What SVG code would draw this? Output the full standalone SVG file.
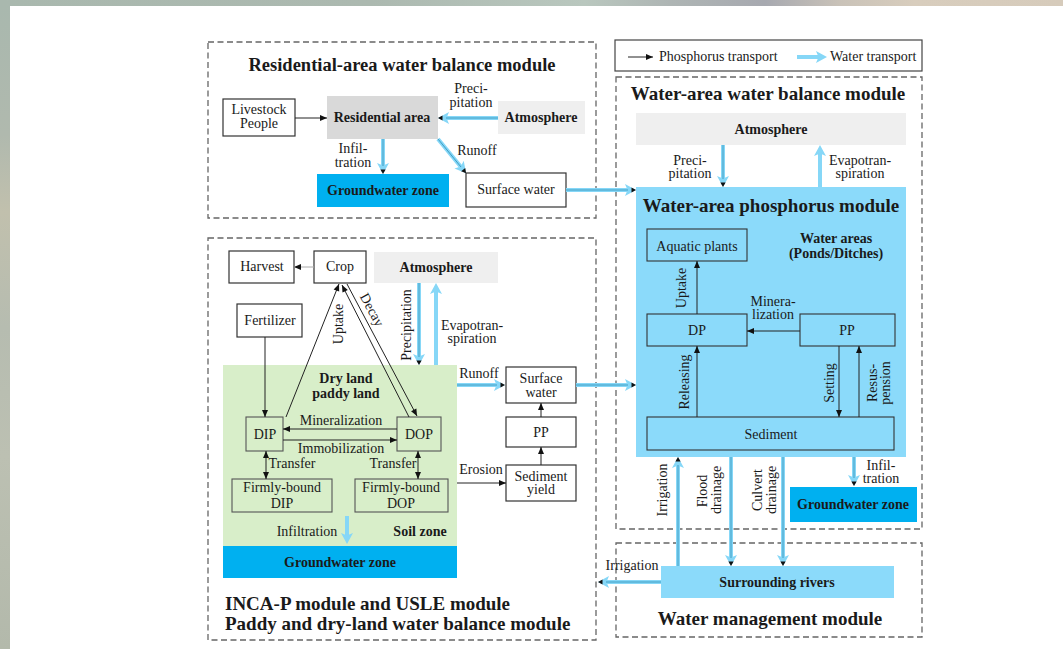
<svg xmlns="http://www.w3.org/2000/svg" width="1063" height="649" viewBox="0 0 1063 649">
  <defs>
    <linearGradient id="bgTop" x1="0" y1="0" x2="1" y2="0">
      <stop offset="0" stop-color="#a9b8ae"/>
      <stop offset="0.35" stop-color="#acb9b0"/>
      <stop offset="0.55" stop-color="#b9c7be"/>
      <stop offset="0.63" stop-color="#aeb5b4"/>
      <stop offset="0.72" stop-color="#a7a9b0"/>
      <stop offset="0.79" stop-color="#c9c2b8"/>
      <stop offset="0.86" stop-color="#d8cdbd"/>
      <stop offset="1" stop-color="#d6cbbb"/>
    </linearGradient>
    <linearGradient id="bgLeft" x1="0" y1="0" x2="0" y2="1">
      <stop offset="0" stop-color="#a9b8ae"/>
      <stop offset="0.2" stop-color="#b0b9ae"/>
      <stop offset="0.32" stop-color="#c1c0ad"/>
      <stop offset="0.5" stop-color="#b6bcb0"/>
      <stop offset="0.7" stop-color="#bcc0b2"/>
      <stop offset="1" stop-color="#b3b9ab"/>
    </linearGradient>
    <!-- phosphorus transport head -->
    <marker id="pa" viewBox="-8 -3.5 9 7" refX="0" refY="0" markerWidth="9" markerHeight="7" markerUnits="userSpaceOnUse" orient="auto-start-reverse">
      <path d="M-7,-3 L0,0 L-7,3 Z" fill="#111"/>
    </marker>
    <!-- water transport head (light blue) -->
    <marker id="wh" viewBox="-4 -7 13 14" refX="0" refY="0" markerWidth="13" markerHeight="14" markerUnits="userSpaceOnUse" orient="auto">
      <path d="M-3,-6 L8,0 L-3,6 L-0.5,0 Z" fill="#86d7f7"/>
    </marker>
    <!-- small dark tip drawn on top of the water head -->
    <marker id="th" viewBox="-4 -7 13 14" refX="0" refY="0" markerWidth="13" markerHeight="14" markerUnits="userSpaceOnUse" orient="auto">
      <path d="M3.5,-2.6 L8,0 L3.5,2.6 Z" fill="#111"/>
    </marker>
    <style>
      text { font-family: "Liberation Serif", "Times New Roman", serif; fill: #1a1a1a; text-anchor: middle; }
      .t { font-size: 14px; }
      .b { font-size: 14px; font-weight: bold; }
      .h { font-size: 19px; font-weight: bold; }
      .st { text-anchor: start; }
      .mod { fill: none; stroke: #666; stroke-width: 1.3; stroke-dasharray: 6 3.5; }
      .box { fill: #fff; stroke: #333; stroke-width: 1.2; }
      .gbox { fill: none; stroke: #555; stroke-width: 1.1; }
      .ibox { fill: none; stroke: #333; stroke-width: 1.1; }
      .atm { fill: #efefef; }
      .gw { fill: #00b0f0; }
      .wa { fill: #8bdafa; }
      .p { fill: none; stroke: #222; stroke-width: 1; marker-end: url(#pa); }
      .w { fill: none; stroke: #86d7f7; stroke-width: 4; marker-end: url(#wh); }
      .wi { fill: none; stroke: #3f9ec4; stroke-width: 1; marker-end: url(#th); }
    </style>
  </defs>

  <!-- page backdrop -->
  <rect width="1063" height="649" fill="url(#bgTop)"/>
  <rect x="0" y="6" width="10" height="643" fill="url(#bgLeft)"/>
  <rect x="10" y="6" width="1053" height="643" fill="#fff"/>

  <!-- module frames -->
  <g id="modules">
    <rect class="mod" x="208" y="42" width="388" height="176"/>
    <rect class="mod" x="208" y="238" width="388" height="402"/>
    <rect class="mod" x="616" y="77" width="306" height="452"/>
    <rect class="mod" x="616" y="543" width="306" height="94"/>
    <text class="h" x="402" y="71" style="font-size:18.5px">Residential-area water balance module</text>
    <text class="h" x="768" y="100">Water-area water balance module</text>
    <text class="h st" x="225" y="610">INCA-P module and USLE module</text>
    <text class="h st" x="225" y="630">Paddy and dry-land water balance module</text>
    <text class="h" x="770" y="625">Water management module</text>
  </g>

  <!-- legend -->
  <g id="legend">
    <rect x="615" y="40" width="307" height="31" fill="#fff" stroke="#444" stroke-width="1.2"/>
    <path class="p" d="M628,57 L653,57"/>
    <text class="t st" x="659" y="61">Phosphorus transport</text>
    <path class="w" d="M797,57 L819,57"/>
    <text class="t st" x="830" y="61">Water transport</text>
  </g>

  <!-- residential-area nodes -->
  <g id="livestock"><rect class="box" x="223" y="99" width="72" height="37"/>
    <text class="t" x="259" y="114">Livestock</text><text class="t" x="259" y="128">People</text></g>
  <g id="residential"><rect x="327" y="96" width="111" height="43" fill="#d9d9d9"/>
    <text class="b" x="382" y="122">Residential area</text></g>
  <g id="res-atmosphere"><rect class="atm" x="498" y="101" width="87" height="33"/>
    <text class="b" x="541" y="122">Atmosphere</text></g>
  <g id="res-groundwater"><rect class="gw" x="317" y="174" width="132" height="33"/>
    <text class="b" x="383" y="195">Groundwater zone</text></g>
  <g id="res-surface"><rect class="box" x="466" y="173" width="100" height="34"/>
    <text class="t" x="516" y="194">Surface water</text></g>

  <!-- land nodes -->
  <g id="harvest"><rect class="box" x="229" y="251" width="65" height="32"/>
    <text class="t" x="262" y="271">Harvest</text></g>
  <g id="crop"><rect class="box" x="314" y="251" width="52" height="32"/>
    <text class="t" x="340" y="271">Crop</text></g>
  <g id="land-atmosphere"><rect class="atm" x="374" y="252" width="124" height="31"/>
    <text class="b" x="436" y="272">Atmosphere</text></g>
  <g id="fertilizer"><rect class="box" x="237" y="304" width="65" height="33"/>
    <text class="t" x="270" y="325">Fertilizer</text></g>
  <g id="soil-zone"><rect x="223" y="365" width="234" height="181" fill="#d8eec9"/>
    <text class="b" x="346" y="383">Dry land</text>
    <text class="b" x="346" y="398">paddy land</text>
    <text class="b" x="420" y="536">Soil zone</text></g>
  <g id="land-groundwater"><rect class="gw" x="223" y="546" width="234" height="32"/>
    <text class="b" x="340" y="567">Groundwater zone</text></g>
  <g id="dip"><rect class="gbox" x="246" y="417" width="37" height="34"/>
    <text class="t" x="265" y="439">DIP</text></g>
  <g id="dop"><rect class="gbox" x="397" y="417" width="44" height="34"/>
    <text class="t" x="419" y="439">DOP</text></g>
  <g id="firm-dip"><rect class="gbox" x="232" y="479" width="100" height="33"/>
    <text class="t" x="282" y="492">Firmly-bound</text><text class="t" x="282" y="508">DIP</text></g>
  <g id="firm-dop"><rect class="gbox" x="355" y="479" width="93" height="33"/>
    <text class="t" x="401" y="492">Firmly-bound</text><text class="t" x="401" y="508">DOP</text></g>
  <g id="land-surface"><rect class="box" x="506" y="367" width="70" height="36"/>
    <text class="t" x="541" y="383">Surface</text><text class="t" x="541" y="397">water</text></g>
  <g id="land-pp"><rect class="box" x="506" y="417" width="70" height="30"/>
    <text class="t" x="541" y="437">PP</text></g>
  <g id="sediment-yield"><rect class="box" x="506" y="465" width="70" height="36"/>
    <text class="t" x="541" y="481">Sediment</text><text class="t" x="541" y="494">yield</text></g>

  <!-- water-area nodes -->
  <g id="wa-atmosphere"><rect class="atm" x="636" y="113" width="270" height="32"/>
    <text class="b" x="771" y="134">Atmosphere</text></g>
  <g id="wa-phosphorus"><rect class="wa" x="636" y="187" width="270" height="270"/>
    <text class="h" x="771" y="212">Water-area phosphorus module</text>
    <text class="b" x="836" y="243">Water areas</text>
    <text class="b" x="836" y="258">(Ponds/Ditches)</text></g>
  <g id="aquatic"><rect class="ibox" x="647" y="229" width="100" height="32"/>
    <text class="t" x="697" y="251">Aquatic plants</text></g>
  <g id="wa-dp"><rect class="ibox" x="647" y="314" width="100" height="32"/>
    <text class="t" x="697" y="335">DP</text></g>
  <g id="wa-pp"><rect class="ibox" x="800" y="314" width="95" height="32"/>
    <text class="t" x="847" y="335">PP</text></g>
  <g id="sediment"><rect class="ibox" x="647" y="417" width="247" height="33"/>
    <text class="t" x="771" y="439">Sediment</text></g>
  <g id="wa-groundwater"><rect class="gw" x="790" y="487" width="127" height="35"/>
    <text class="b" x="853" y="509">Groundwater zone</text></g>
  <g id="rivers"><rect class="wa" x="661" y="566" width="233" height="32"/>
    <text class="b" x="777" y="587">Surrounding rivers</text></g>

  <!-- connectors -->
  <g id="connectors">
    <!-- residential area -->
    <path class="p" d="M295,118 L327,118"/>
    <path class="w" d="M498,118 L446,118"/><path class="wi" d="M498,118 L446,118"/>
    <text class="t" x="471" y="93">Preci-</text><text class="t" x="471" y="107">pitation</text>
    <path class="w" d="M383,139 L383,166"/><path class="wi" d="M383,139 L383,166"/>
    <text class="t" x="353" y="153">Infil-</text><text class="t" x="353" y="167">tration</text>
    <path class="w" d="M438,139 L461,167"/><path class="wi" d="M438,139 L461,167"/>
    <text class="t" x="477" y="155">Runoff</text>
    <path class="w" d="M566,190 L628,190"/><path class="wi" d="M566,190 L628,190"/>

    <!-- land: crop cycle -->
    <path d="M314,267 L294,267" fill="none" stroke="#aaa" stroke-width="1" marker-end="url(#pa)"/>
    <path class="p" d="M265,337 L265,417"/>
    <path class="p" d="M286,417 L339,284"/>
    <path class="p" d="M409,417 L342,285"/>
    <path class="p" d="M347,284 L417,416"/>
    <text class="t" transform="translate(343,324) rotate(-90)">Uptake</text>
    <text class="t" transform="translate(368,312) rotate(62)">Decay</text>
    <path class="p" d="M397,429 L283,429"/>
    <text class="t" x="341" y="425">Mineralization</text>
    <path class="p" d="M283,440 L397,440"/>
    <text class="t" x="341" y="453">Immobilization</text>
    <path class="p" d="M266,451 L266,479" marker-start="url(#pa)"/>
    <text class="t" x="292" y="468">Transfer</text>
    <path class="p" d="M418,451 L418,479" marker-start="url(#pa)"/>
    <text class="t" x="393" y="468">Transfer</text>

    <!-- land: water -->
    <path class="w" d="M419,283 L419,357"/><path class="wi" d="M419,283 L419,357"/>
    <text class="t" transform="translate(411,325) rotate(-90)">Precipitation</text>
    <path class="w" d="M436,365 L436,291"/>
    <text class="t" x="472" y="330">Evapotran-</text><text class="t" x="472" y="343">spiration</text>
    <path class="w" d="M347,516 L347,536"/>
    <text class="t" x="307" y="536">Infiltration</text>
    <path class="w" d="M457,385 L497,385"/><path class="wi" d="M457,385 L497,385"/>
    <text class="t" x="479" y="378">Runoff</text>
    <path class="p" d="M457,483 L506,483"/>
    <text class="t" x="481" y="474">Erosion</text>
    <path class="p" d="M541,465 L541,447"/>
    <path class="p" d="M541,417 L541,403"/>
    <path class="w" d="M576,385 L628,385"/><path class="wi" d="M576,385 L628,385"/>

    <!-- water area: atmosphere exchange -->
    <path class="w" d="M723,145 L723,179"/><path class="wi" d="M723,145 L723,179"/>
    <text class="t" x="690" y="165">Preci-</text><text class="t" x="690" y="178">pitation</text>
    <path class="w" d="M820,187 L820,153"/>
    <text class="t" x="860" y="165">Evapotran-</text><text class="t" x="860" y="178">spiration</text>

    <!-- water area: phosphorus -->
    <path class="p" d="M697,314 L697,261"/>
    <text class="t" transform="translate(686,288) rotate(-90)">Uptake</text>
    <path class="p" d="M800,331 L747,331"/>
    <text class="t" x="773" y="306">Minera-</text><text class="t" x="773" y="319">lization</text>
    <path class="p" d="M697,417 L697,346"/>
    <text class="t" transform="translate(689,382) rotate(-90)">Releasing</text>
    <path class="p" d="M839,346 L839,417"/>
    <text class="t" transform="translate(834,383) rotate(-90)">Setting</text>
    <path class="p" d="M859,417 L859,346"/>
    <text class="t" transform="translate(877,383) rotate(-90)">Resus-</text>
    <text class="t" transform="translate(890,383) rotate(-90)">pension</text>

    <!-- water management -->
    <path class="w" d="M678,566 L678,465"/><path class="wi" d="M678,566 L678,465"/>
    <text class="t" transform="translate(667,490) rotate(-90)">Irrigation</text>
    <path class="w" d="M731,457 L731,558"/><path class="wi" d="M731,457 L731,558"/>
    <text class="t" transform="translate(707,491) rotate(-90)">Flood</text>
    <text class="t" transform="translate(721,490) rotate(-90)">drainage</text>
    <path class="w" d="M783,457 L783,558"/><path class="wi" d="M783,457 L783,558"/>
    <text class="t" transform="translate(762,490) rotate(-90)">Culvert</text>
    <text class="t" transform="translate(776,490) rotate(-90)">drainage</text>
    <path class="w" d="M854,457 L854,478"/><path class="wi" d="M854,457 L854,478"/>
    <text class="t" x="881" y="470">Infil-</text><text class="t" x="881" y="483">tration</text>
    <path class="w" d="M661,582 L606,582"/><path class="wi" d="M661,582 L606,582"/>
    <text class="t" x="632" y="570">Irrigation</text>
  </g>
</svg>
